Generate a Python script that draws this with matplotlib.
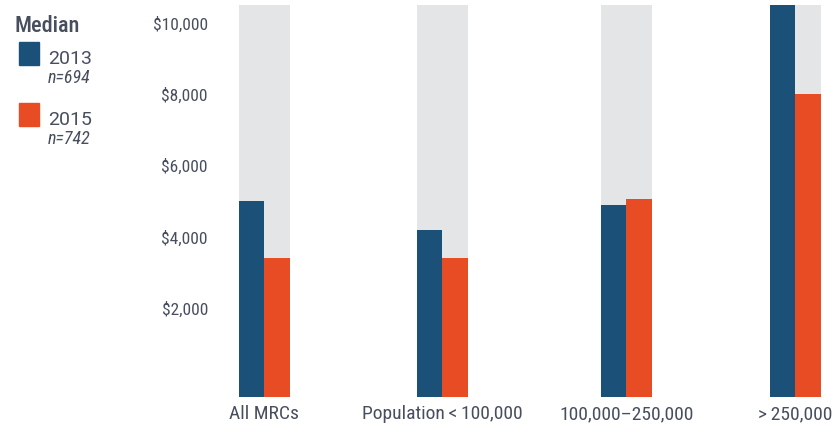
import numpy as np
import matplotlib.pyplot as plt
from matplotlib.patches import Rectangle

# median values by community size
groups = ["All MRCs", "Population\u2009<\u2009100,000", "100,000\u2013250,000", ">\u2009250,000"]
median_2013 = [5000, 4200, 4900, 11000]
median_2015 = [3400, 3400, 5060, 8000]
yticks = [2000, 4000, 6000, 8000, 10000]
ytick_labels = ["$2,000", "$4,000", "$6,000", "$8,000", "$10,000"]
legend_years = ["2013", "2015"]
legend_n = ["n=694", "n=742"]

BLUE = "#1b5178"
ORANGE = "#e84c24"
GREY = "#e4e5e7"
TEXT = "#474e5e"
NARROW = ["Roboto Condensed", "DejaVu Sans"]
SANS = ["Roboto", "DejaVu Sans"]

W, H = 837, 433
fig = plt.figure(figsize=(W / 100, H / 100), dpi=100)

# plot area in pixel units: x from 210 to 837, y from 5 to 397 (from top)
ax = fig.add_axes([210 / W, (H - 397) / H, (W - 210) / W, 392 / H])
ax.set_xlim(210, W)
base, top = -480, 10500
ax.set_ylim(base, top)

centers = np.array([264.5, 442.5, 626.5, 795.5])
bw = 25.5

ax.bar(centers, top - base, width=2 * bw, bottom=base, color=GREY, zorder=1)
ax.bar(centers - bw / 2, np.array(median_2013) - base, width=bw, bottom=base,
       color=BLUE, zorder=2)
ax.bar(centers + bw / 2, np.array(median_2015) - base, width=bw, bottom=base,
       color=ORANGE, zorder=2)

for s in ax.spines.values():
    s.set_visible(False)
ax.set_yticks(yticks)
ax.set_yticklabels(ytick_labels, family=NARROW, fontsize=12.5, color=TEXT)
ax.set_xticks(centers)
ax.set_xticklabels(groups, family=NARROW, fontsize=14, color=TEXT)
ax.tick_params(axis="y", length=0, pad=1.5)
ax.tick_params(axis="x", length=0, pad=6)

# legend drawn in pixel coordinates on an overlay
lg = fig.add_axes([0, 0, 1, 1])
lg.set_xlim(0, W)
lg.set_ylim(H, 0)
lg.axis("off")
lg.text(15, 32, "Median", family=NARROW, fontsize=16, weight="medium",
        color=TEXT, va="baseline")
for i, (yr, n, c) in enumerate(zip(legend_years, legend_n, [BLUE, ORANGE])):
    y0 = 42 + i * 61
    lg.add_patch(Rectangle((19, y0), 20, 23, color=c))
    lg.text(48, y0 + 22, yr, family=SANS, fontsize=14, color=TEXT, va="baseline")
    lg.text(48, y0 + 41, n, family=NARROW, fontsize=13, style="italic",
            color=TEXT, va="baseline")

fig.savefig("out.png", dpi=100)
